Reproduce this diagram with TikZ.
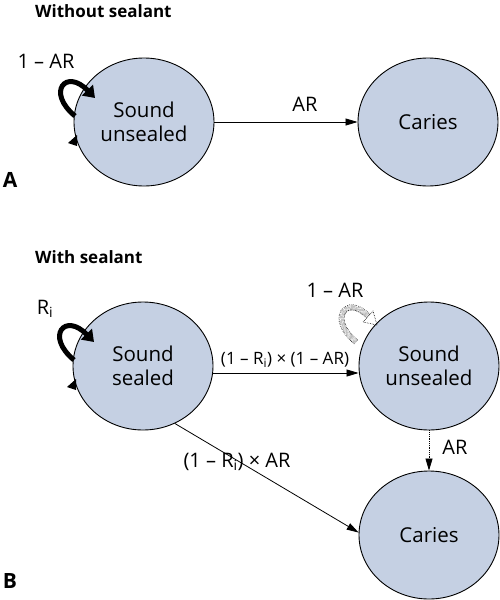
\documentclass[tikz,border=0pt]{standalone}
\usepackage{fontspec}
\setmainfont{Open Sans}
\usetikzlibrary{shapes.geometric,arrows.meta}
\definecolor{statefill}{RGB}{197,208,227}
\begin{document}
\begin{tikzpicture}[x=1pt,y=-1pt,
  state/.style={ellipse, draw=black, line width=0.9pt, fill=statefill, minimum width=140pt, minimum height=128pt, inner sep=0pt, align=center, font=\fontsize{20.5}{24}\selectfont},
  lbl/.style={font=\fontsize{20}{24}\selectfont, inner sep=0pt},
  smalllbl/.style={font=\fontsize{17}{20}\selectfont, inner sep=0pt},
  titlelbl/.style={font=\bfseries\fontsize{17}{21}\selectfont, anchor=west, inner sep=0pt},
  panellbl/.style={font=\bfseries\fontsize{21}{24}\selectfont, inner sep=0pt},
  trans/.style={line width=0.8pt, -{Triangle[length=12pt,width=7pt]}},
  dottrans/.style={line width=0.8pt, densely dotted, -{Triangle[length=12pt,width=7pt]}},
  selfloop/.style={line width=5pt, -{Triangle[length=11pt,width=15pt]}},
  ghost/.style={line width=0.6pt, densely dotted, double=white, double distance=4.5pt},
  ghosthead/.style={line width=0.6pt, densely dotted},
]
\useasboundingbox (0,0) rectangle (500,600);

% ---------- Panel A ----------
\node[titlelbl] (tA) at (35,11) {Without sealant};
\node[panellbl] (pA) at (10,180) {A};
\node[state] (suA) at (144,122) {Sound\\unsealed};
\node[state] (caA) at (428,122) {Caries};
\draw[trans] (suA.east) -- (caA.west);
\node[lbl] (arA) at (305,104) {AR};
\draw[selfloop] ([shift={(-69,-6)}]suA.center) .. controls ([shift={(-98,-30)}]suA.center) and ([shift={(-78,-54)}]suA.center) .. ([shift={(-49,-24)}]suA.center);
\node[lbl] (lpA) at (46,61) {1 – AR};
\fill ([shift={(-67,13)}]suA.center) -- ([shift={(-76,21)}]suA.center) -- ([shift={(-67,24)}]suA.center) -- cycle;

% ---------- Panel B ----------
\node[titlelbl] (tB) at (35,257) {With sealant};
\node[panellbl] (pB) at (10,581) {B};
\node[state] (ss) at (143,366) {Sound\\sealed};
\node[state] (sub) at (429,366) {Sound\\unsealed};
\node[state] (cb) at (429,535) {Caries};

\draw[trans] ([yshift=-7pt]ss.east) -- ([yshift=-7pt]sub.west);
\node[smalllbl] (l1) at (285,360) {(1 – R\textsubscript{i}) × (1 – AR)};
\draw[trans] (ss.-61.5) -- (cb.178);
\node[lbl] (l2) at (237,462) {(1 – R\textsubscript{i}) × AR};
\draw[dottrans] (sub.south) -- (cb.north);
\node[lbl] (l3) at (455,447) {AR};

\draw[selfloop] ([shift={(-69,-6)}]ss.center) .. controls ([shift={(-98,-30)}]ss.center) and ([shift={(-78,-54)}]ss.center) .. ([shift={(-49,-24)}]ss.center);
\node[lbl] (lpB) at (45,309) {R\textsubscript{i}};
\fill ([shift={(-67,13)}]ss.center) -- ([shift={(-76,21)}]ss.center) -- ([shift={(-67,24)}]ss.center) -- cycle;

% ghost loop on Sound unsealed
\draw[ghost] ([shift={(-73,-24)}]sub.center) .. controls ([shift={(-102,-48)}]sub.center) and ([shift={(-82,-72)}]sub.center) .. ([shift={(-61,-50)}]sub.center);
\draw[ghosthead] ([shift={(-52,-41)}]sub.center) -- ([shift={(-66,-44)}]sub.center) -- ([shift={(-56,-55)}]sub.center) -- cycle;
\node[lbl] (lpC) at (335,290) {1 – AR};
\end{tikzpicture}
\end{document}
